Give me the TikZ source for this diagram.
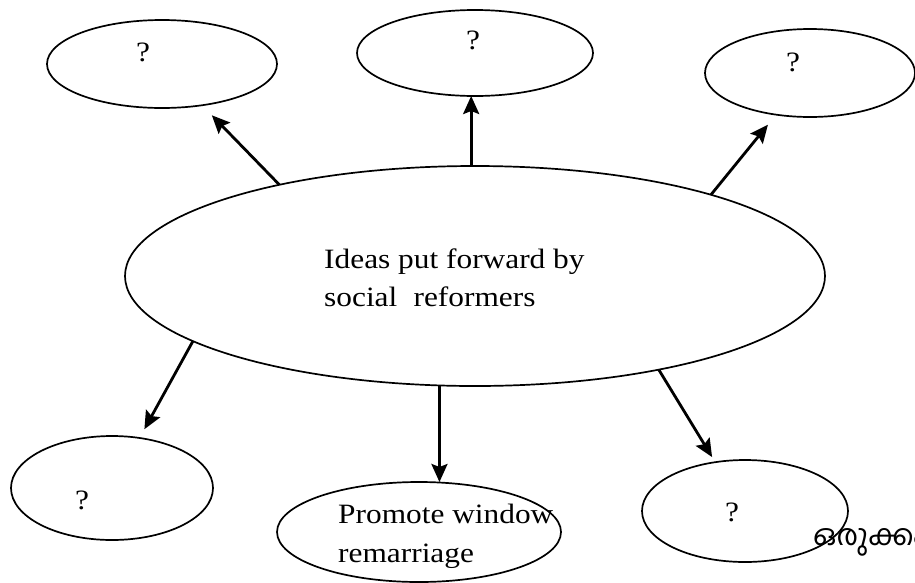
\documentclass[tikz,border=0pt]{standalone}
\usepackage{fontspec}
\setmainfont{Liberation Serif}[FakeStretch=1.12]
\newfontfamily\mlfont[Script=Malayalam]{Hind Kochi}
\usetikzlibrary{shapes.geometric,arrows.meta}

\begin{document}
\begin{tikzpicture}[x=1pt,y=-1pt,
  bubble/.style={draw,ellipse,line width=1.7pt,inner sep=0pt,outer sep=0pt},
  arr/.style={line width=2.8pt,-{Stealth[length=18pt,width=16pt,inset=3pt]}},
  txt/.style={font=\fontsize{28}{38}\selectfont,inner sep=0pt}]
\useasboundingbox (0,0) rectangle (915,582);

% central idea
\node[bubble,minimum width=700pt,minimum height=220pt] (main) at (475,276) {};
\node[txt,anchor=base west] (m1) at (324,268) {Ideas put forward by};
\node[txt,anchor=base west] (m2) at (324,306) {social\hspace{0.3em} reformers};

% surrounding bubbles
\node[bubble,minimum width=230pt,minimum height=88pt] (tl) at (162,64) {};
\node[bubble,minimum width=236pt,minimum height=86pt] (tm) at (475,53) {};
\node[bubble,minimum width=210pt,minimum height=88pt] (tr) at (810,73) {};
\node[bubble,minimum width=202pt,minimum height=104pt] (bl) at (112,488) {};
\node[bubble,minimum width=284pt,minimum height=100pt] (bm) at (419,532) {};
\node[bubble,minimum width=206pt,minimum height=102pt] (br) at (745,511) {};

% labels
\node[txt] (q1) at (143,52) {?};
\node[txt] (q2) at (473,40) {?};
\node[txt] (q3) at (793,62) {?};
\node[txt] (q4) at (82,500) {?};
\node[txt] (q5) at (732,512) {?};
\node[txt,anchor=base west] (b1) at (338,523) {Promote window};
\node[txt,anchor=base west] (b2) at (338,562) {remarriage};
\node[anchor=base west,inner sep=0pt,font=\mlfont\fontsize{29}{34}\selectfont] (ml) at (813,545) {ഒരുക്കം};

% connectors
\draw[arr,shorten >=14pt] (main.155) -- (tl);
\draw[arr] (main.92) -- (main.92 |- tm.south);
\draw[arr,shorten >=13pt] (main.19) -- (tr);
\draw[arr,shorten >=10pt] (main.193) -- (bl);
\draw[arr] (main.252) -- (main.252 |- bm.north);
\draw[arr,shorten >=6pt] (main.333.5) -- (br);
\end{tikzpicture}
\end{document}
